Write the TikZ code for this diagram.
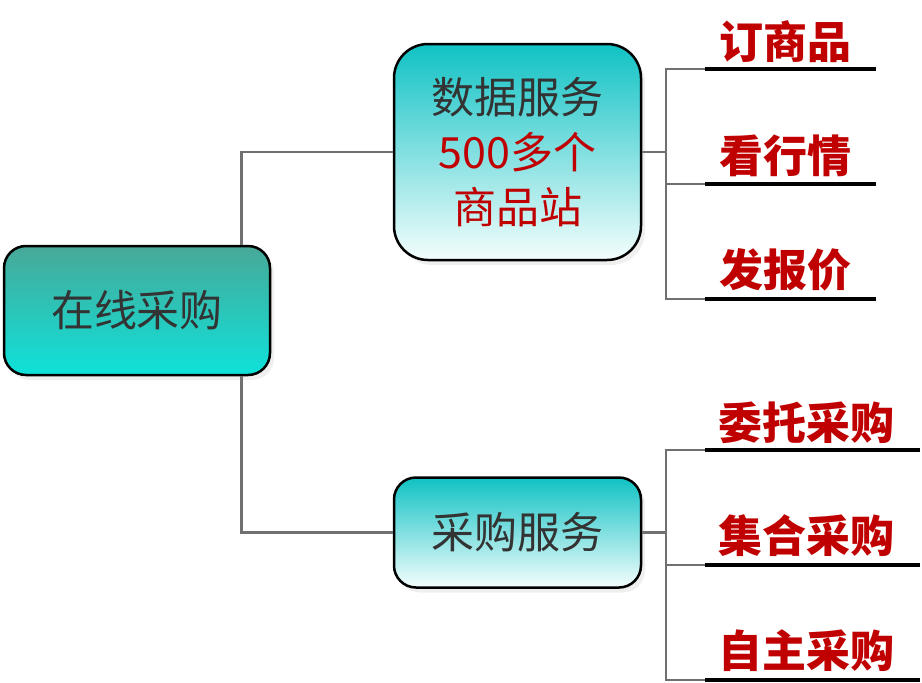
\documentclass[tikz,border=0pt]{standalone}
\usepackage{fontspec}
\newfontfamily\cjk{Noto Sans CJK SC}
\usepackage{xcolor}
\usepackage{tikz}
\usetikzlibrary{shadows}

\definecolor{textgray}{HTML}{333333}
\definecolor{leafred}{HTML}{C00000}
\definecolor{branchgray}{HTML}{707070}
\definecolor{roottop}{HTML}{48A898}
\definecolor{rootbottom}{HTML}{0EE2DA}
\definecolor{boxtop}{HTML}{10C2C4}
\definecolor{boxbottom}{HTML}{F4FDFD}

\tikzset{
    mainbox/.style={draw=black, line width=2.5pt, rounded corners=22pt,
        drop shadow={shadow xshift=4pt, shadow yshift=-5pt, fill=black!12},
        text=textgray, align=center, font=\cjk\fontsize{43}{55}\selectfont},
    branch/.style={draw=branchgray, line width=2.5pt},
    underline/.style={draw=black, line width=3.5pt},
    leaf/.style={text=leafred, font=\cjk\bfseries\fontsize{44}{48}\selectfont}
}

\begin{document}
\begin{tikzpicture}[x=1pt, y=-1pt]
    \useasboundingbox (0,0) rectangle (922,683);

    % boxes
    \node[mainbox, top color=roottop, bottom color=rootbottom,
        minimum width=266pt, minimum height=129pt] at (137, 310.5) (root) {在线采购};
    \node[mainbox, top color=boxtop, bottom color=boxbottom, rounded corners=34pt,
        minimum width=247pt, minimum height=216pt] at (517.5, 152) (data)
        {数据服务\\\textcolor{leafred}{500多个}\\\textcolor{leafred}{商品站}};
    \node[mainbox, top color=boxtop, bottom color=boxbottom,
        minimum width=247pt, minimum height=110pt] at (517.5, 532.5) (buy) {采购服务};

    % trunk
    \draw[branch] (data.west) -| ([xshift=-30pt]root.north east);
    \draw[branch] (buy.west) -| ([xshift=-30pt]root.south east);

    % upper leaves
    \coordinate (dfork) at (666, 152);
    \coordinate (d1) at (705, 69);
    \coordinate (d2) at (705, 184);
    \coordinate (d3) at (705, 299);
    \node[leaf] at (785, 42) (dl1) {订商品};
    \node[leaf] at (785, 156) (dl2) {看行情};
    \node[leaf] at (785, 270) (dl3) {发报价};
    \draw[branch] (data.east) -- (dfork);
    \draw[branch] (d1) -| (dfork) |- (d3);
    \draw[branch] (d2) -- (d2 -| dfork);
    \draw[underline] (d1) -- ++(171, 0);
    \draw[underline] (d2) -- ++(171, 0);
    \draw[underline] (d3) -- ++(171, 0);

    % lower leaves
    \coordinate (bfork) at (666, 532.5);
    \coordinate (b1) at (705, 450);
    \coordinate (b2) at (705, 565);
    \coordinate (b3) at (705, 680);
    \node[leaf] at (806, 423) (bl1) {委托采购};
    \node[leaf] at (806, 536) (bl2) {集合采购};
    \node[leaf] at (806, 651) (bl3) {自主采购};
    \draw[branch] (buy.east) -- (bfork);
    \draw[branch] (b1) -| (bfork) |- (b3);
    \draw[branch] (b2) -- (b2 -| bfork);
    \draw[underline] (b1) -- ++(215, 0);
    \draw[underline] (b2) -- ++(215, 0);
    \draw[underline] (b3) -- ++(215, 0);
\end{tikzpicture}
\end{document}
